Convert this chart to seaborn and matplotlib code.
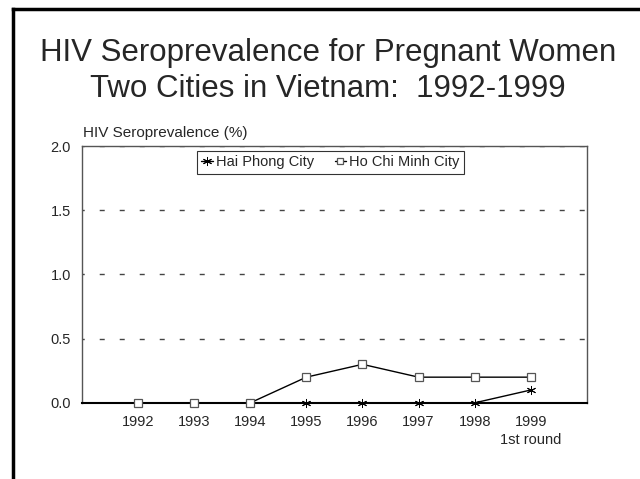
"""
HIV seroprevalence in pregnant women, two cities in Vietnam, 1992-1999
"""
import numpy as np
import pandas as pd
import matplotlib.pyplot as plt
import seaborn as sns
from matplotlib.lines import Line2D

sns.set_theme(style="white")
plt.rcParams["font.family"] = ["Liberation Sans", "DejaVu Sans"]

# datos
years = ["1992", "1993", "1994", "1995", "1996", "1997", "1998", "1999"]
year_labels = ["1992", "1993", "1994", "1995", "1996", "1997", "1998", "1999\n1st round"]
hai_phong = [np.nan, np.nan, 0.0, 0.0, 0.0, 0.0, 0.0, 0.1]
ho_chi_minh = [0.0, 0.0, 0.0, 0.2, 0.3, 0.2, 0.2, 0.2]
cities = ["Hai Phong City", "Ho Chi Minh City"]
y_ticks = [0.0, 0.5, 1.0, 1.5, 2.0]
title_lines = ["HIV Seroprevalence for Pregnant Women", "Two Cities in Vietnam:  1992-1999"]

STAR = (6, 2, 0)  # asterisco de trazos


def build_frame() -> pd.DataFrame:
    """Tabla larga para seaborn."""
    df = pd.DataFrame({"year": years, cities[0]: hai_phong, cities[1]: ho_chi_minh})
    return df.melt(id_vars="year", var_name="city", value_name="value")


def main():
    data = build_frame()

    fig = plt.figure(figsize=(6.4, 4.79), dpi=100)
    ax = fig.add_axes([0.128, 0.159, 0.789, 0.536])

    sns.pointplot(data=data, x="year", y="value", hue="city", hue_order=cities,
                  order=years, markers=["*", "s"], linestyles=["-", "-"],
                  palette=["black", "black"], errorbar=None, ax=ax,
                  markersize=5, linewidth=1.0, legend=False)

    # estilo de marcadores: asterisco negro, cuadrado hueco gris
    for line in ax.lines:
        marker = line.get_marker()
        line.set_clip_on(False)
        line.set_zorder(5)
        if marker == "s":
            line.set_markerfacecolor("white")
            line.set_markeredgecolor("#555555")
            line.set_markersize(5.5)
            line.set_markeredgewidth(0.9)
        elif marker == "*":
            line.set_marker(STAR)
            line.set_markeredgecolor("black")
            line.set_markersize(6.5)
            line.set_markeredgewidth(0.7)

    ax.set_xlim(-1, len(years))
    ax.set_ylim(0, 2.0)
    ax.set_yticks(y_ticks)
    ax.set_yticklabels([f"{v:.1f}" for v in y_ticks], fontsize=10.5)
    ax.set_xticks(range(len(years)))
    ax.set_xticklabels(year_labels, fontsize=10.5, linespacing=1.35)
    ax.tick_params(axis="y", length=0, pad=8)
    ax.tick_params(axis="x", length=0, pad=9)
    ax.set_xlabel("")
    ax.set_ylabel("")

    ax.yaxis.grid(True, linestyle=(2, (3.6, 10.8)), color="#444444", linewidth=1.0)
    ax.xaxis.grid(False)

    for side in ["left", "right", "top"]:
        ax.spines[side].set_visible(True)
        ax.spines[side].set_color("#555555")
        ax.spines[side].set_linewidth(1.0)
    ax.spines["bottom"].set_color("black")
    ax.spines["bottom"].set_linewidth(1.5)

    # leyenda
    handles = [
        Line2D([], [], color="black", marker=STAR, markersize=6.5, markeredgewidth=0.7, linewidth=1.0),
        Line2D([], [], color="black", marker="s", markersize=5, markerfacecolor="white",
               markeredgecolor="#555555", markeredgewidth=0.9, linewidth=1.0),
    ]
    ax.legend(handles, cities, loc="upper left", bbox_to_anchor=(0.308, 0.685),
              bbox_transform=fig.transFigure, ncol=2, frameon=True, fancybox=False,
              edgecolor="black", fontsize=10.5, handlelength=0.8, handletextpad=0.2,
              columnspacing=1.4, borderpad=0.3, borderaxespad=0)
    ax.get_legend().get_frame().set_linewidth(0.8)

    fig.text(0.13, 0.7223, "HIV Seroprevalence (%)", ha="left", va="center", fontsize=11)

    # título en dos líneas, alineado por la línea base
    fig.text(0.512, 0.8727, title_lines[0], ha="center", va="baseline", fontsize=22.5)
    fig.text(0.512, 0.7975, title_lines[1], ha="center", va="baseline", fontsize=22.5)

    # marco de la diapositiva
    fig.add_artist(Line2D([13 / 640, 13 / 640], [0, 1 - 9 / 479], transform=fig.transFigure,
                          color="black", linewidth=2.5, solid_capstyle="projecting"))
    fig.add_artist(Line2D([13 / 640, 1], [1 - 9 / 479, 1 - 9 / 479], transform=fig.transFigure,
                          color="black", linewidth=2.5, solid_capstyle="projecting"))

    fig.savefig("out.png", dpi=100)
    plt.close(fig)


if __name__ == "__main__":
    main()
